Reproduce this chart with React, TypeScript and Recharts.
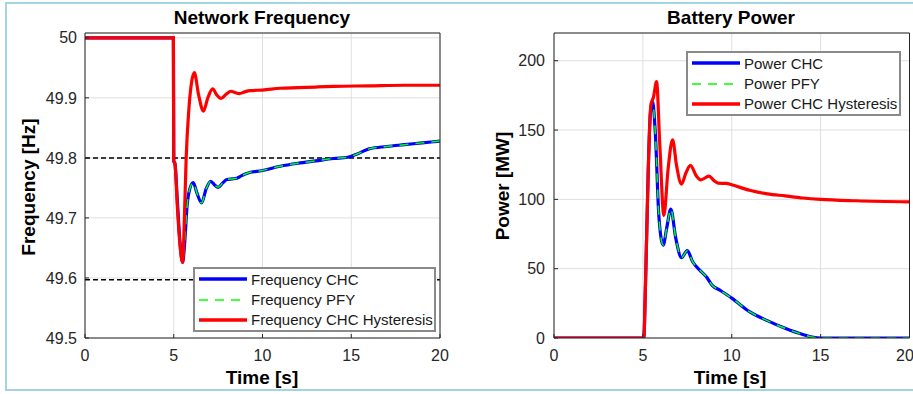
import React from 'react';
import { LineChart, Line, XAxis, YAxis, CartesianGrid, ReferenceLine, Legend } from 'recharts';

const timeTicks = [0, 5, 10, 15, 20];
const freqTicks = [49.5, 49.6, 49.7, 49.8, 49.9, 50];
const powerTicks = [0, 50, 100, 150, 200];
const freqLimits = [49.8, 49.597];

// Network frequency [Hz]
const freqChcT = [0, 4.98, 5.0, 5.07, 5.2, 5.35, 5.5, 5.62, 5.75, 5.9, 6.1, 6.3, 6.57, 6.82, 7.08, 7.3, 7.5, 7.75, 8.0, 8.3, 8.55, 8.8, 9.1, 10, 11, 12, 13, 14, 14.8, 15.3, 16, 17, 18, 19, 20];
const freqChcV = [50, 50, 49.795, 49.79, 49.73, 49.66, 49.626, 49.66, 49.72, 49.748, 49.759, 49.742, 49.725, 49.748, 49.761, 49.755, 49.751, 49.758, 49.764, 49.765, 49.766, 49.77, 49.774, 49.779, 49.786, 49.791, 49.795, 49.799, 49.801, 49.806, 49.815, 49.819, 49.822, 49.825, 49.828];
const freqPfyT = [0, 4.98, 5.0, 5.07, 5.2, 5.35, 5.5, 5.62, 5.75, 5.9, 6.1, 6.3, 6.57, 6.82, 7.08, 7.3, 7.5, 7.75, 8.0, 8.3, 8.55, 8.8, 9.1, 10, 11, 12, 13, 14, 14.8, 15.3, 16, 17, 18, 19, 20];
const freqPfyV = [50, 50, 49.795, 49.79, 49.73, 49.66, 49.626, 49.66, 49.72, 49.748, 49.759, 49.742, 49.725, 49.748, 49.761, 49.755, 49.751, 49.758, 49.764, 49.765, 49.766, 49.77, 49.774, 49.779, 49.786, 49.791, 49.795, 49.799, 49.801, 49.806, 49.815, 49.819, 49.822, 49.825, 49.828];
const freqHysT = [0, 4.98, 5.0, 5.07, 5.2, 5.35, 5.5, 5.6, 5.7, 5.85, 6.0, 6.16, 6.4, 6.67, 6.92, 7.19, 7.42, 7.66, 7.95, 8.22, 8.45, 8.69, 9.0, 9.3, 10, 11, 12, 13, 14, 16, 18, 20];
const freqHysV = [50, 50, 49.795, 49.79, 49.72, 49.655, 49.626, 49.7, 49.8, 49.88, 49.925, 49.942, 49.905, 49.878, 49.9, 49.915, 49.905, 49.899, 49.906, 49.911, 49.909, 49.907, 49.91, 49.912, 49.913, 49.916, 49.917, 49.918, 49.919, 49.92, 49.921, 49.921];

// Battery power [MW]
const powChcT = [0, 5.05, 5.15, 5.3, 5.42, 5.54, 5.7, 5.9, 6.14, 6.35, 6.57, 6.85, 7.17, 7.5, 7.8, 8.2, 8.58, 8.9, 9.33, 10, 11, 12, 13, 14, 14.6, 15, 20];
const powChcV = [0, 0, 40, 120, 162, 171, 148, 88, 67, 80, 93, 72, 58, 63, 55, 49, 44, 38, 34.5, 28.8, 19, 12.5, 7, 2.5, 0.5, 0, 0];
const powPfyT = [0, 5.05, 5.15, 5.3, 5.42, 5.54, 5.7, 5.9, 6.14, 6.35, 6.57, 6.85, 7.17, 7.5, 7.8, 8.2, 8.58, 8.9, 9.33, 10, 11, 12, 13, 14, 14.6, 15, 20];
const powPfyV = [0, 0, 40, 120, 162, 171, 148, 88, 67, 80, 93, 72, 58, 63, 55, 49, 44, 38, 34.5, 28.8, 19, 12.5, 7, 2.5, 0.5, 0, 0];
const powHysT = [0, 5.05, 5.15, 5.3, 5.45, 5.6, 5.77, 5.95, 6.18, 6.42, 6.67, 6.9, 7.17, 7.42, 7.68, 8.0, 8.26, 8.5, 8.72, 9.0, 9.23, 9.7, 10, 11, 12, 13, 14, 15, 17, 20];
const powHysV = [0, 0, 40, 120, 168, 174, 185, 140, 88.5, 122, 143, 124, 111, 119, 124.5, 117, 114, 115.5, 116.8, 113.5, 111.7, 111.5, 110.5, 106.6, 104, 102.5, 101, 100, 99, 98.2];

const zip = (t: number[], v: number[]) => t.map((x, i) => ({ t: x, v: v[i] }));

const FONT = '"Liberation Sans", Arial, sans-serif';
const AXIS = '#262626';
const GRID = '#dedede';

interface Series {
  name: string;
  data: { t: number; v: number }[];
  color: string;
  width: number;
  dash?: string;
}

const freqSeries: Series[] = [
  { name: 'Frequency CHC', data: zip(freqChcT, freqChcV), color: '#0000ff', width: 3.2 },
  { name: 'Frequency PFY', data: zip(freqPfyT, freqPfyV), color: '#00ff00', width: 1.5, dash: '9 7' },
  { name: 'Frequency CHC Hysteresis', data: zip(freqHysT, freqHysV), color: '#ff0000', width: 3.2 },
];

const powerSeries: Series[] = [
  { name: 'Power CHC', data: zip(powChcT, powChcV), color: '#0000ff', width: 3.2 },
  { name: 'Power PFY', data: zip(powPfyT, powPfyV), color: '#00ff00', width: 1.5, dash: '9 7' },
  { name: 'Power CHC Hysteresis', data: zip(powHysT, powHysV), color: '#ff0000', width: 3.2 },
];

const LegendBox = ({ items, width }: { items: Series[]; width: number }) => (
  <div
    style={{
      width,
      boxSizing: 'border-box',
      background: '#fff',
      border: '2px solid #8a8a8a',
      fontFamily: FONT,
      fontSize: 15,
      color: '#1a1a1a',
    }}
  >
    {items.map((s) => (
      <div key={s.name} style={{ display: 'flex', alignItems: 'center', height: 20.4, whiteSpace: 'nowrap' }}>
        <svg width={48} height={6} style={{ marginLeft: 4, flexShrink: 0 }}>
          <line x1={0} x2={48} y1={3} y2={3} stroke={s.color} strokeWidth={s.dash ? 1.5 : 3.3} strokeDasharray={s.dash} />
        </svg>
        <span style={{ marginLeft: 4 }}>{s.name}</span>
      </div>
    ))}
  </div>
);

const tickStyle = { fill: AXIS, fontSize: 16, fontFamily: FONT };

interface PanelProps {
  width: number;
  margin: { top: number; right: number; bottom: number; left: number };
  yDomain: [number, number];
  yTicks: number[];
  series: Series[];
  legendPos: { left: number; top: number; width: number };
  refLines?: number[];
  yTickMargin: number;
}

const Panel = ({ width, margin, yDomain, yTicks, series, legendPos, refLines, yTickMargin }: PanelProps) => (
  <LineChart width={width} height={394} margin={margin}>
    <CartesianGrid stroke={GRID} strokeWidth={1} />
    <XAxis
      xAxisId={0}
      type="number"
      dataKey="t"
      domain={[0, 20]}
      ticks={timeTicks}
      allowDataOverflow
      height={30}
      stroke={AXIS}
      tickSize={-4}
      tickMargin={16}
      tick={tickStyle}
    />
    <XAxis
      xAxisId="top"
      orientation="top"
      type="number"
      dataKey="t"
      domain={[0, 20]}
      ticks={timeTicks}
      allowDataOverflow
      height={1}
      stroke={AXIS}
      tickSize={-4}
      tick={false}
    />
    <YAxis
      yAxisId={0}
      type="number"
      domain={yDomain}
      ticks={yTicks}
      allowDataOverflow
      width={60}
      stroke={AXIS}
      tickSize={-4}
      tickMargin={yTickMargin}
      tick={tickStyle}
      tickFormatter={(v: number) => String(v)}
    />
    <YAxis
      yAxisId="right"
      orientation="right"
      type="number"
      domain={yDomain}
      ticks={yTicks}
      allowDataOverflow
      width={1}
      stroke={AXIS}
      tickSize={-4}
      tick={false}
    />
    {(refLines || []).map((y) => (
      <ReferenceLine key={y} y={y} stroke="#000" strokeWidth={1.5} strokeDasharray="5 3" />
    ))}
    {series.map((s) => (
      <Line
        key={s.name}
        name={s.name}
        data={s.data}
        dataKey="v"
        type="monotone"
        stroke={s.color}
        strokeWidth={s.width}
        strokeDasharray={s.dash}
        dot={false}
        activeDot={false}
        isAnimationActive={false}
      />
    ))}
    <Legend
      layout="vertical"
      align="center"
      verticalAlign="middle"
      wrapperStyle={{ left: legendPos.left, top: legendPos.top, width: legendPos.width, margin: 0 }}
      content={() => <LegendBox items={series} width={legendPos.width} />}
    />
  </LineChart>
);

const textBase: React.CSSProperties = {
  position: 'absolute',
  fontFamily: FONT,
  fontWeight: 700,
  fontSize: 19,
  lineHeight: '20px',
  color: '#000',
  textAlign: 'center',
  whiteSpace: 'nowrap',
};

const Title = ({ cx, cy, text, rotate }: { cx: number; cy: number; text: string; rotate?: boolean }) => (
  <div
    style={{
      ...textBase,
      left: cx - 110,
      top: cy - 10,
      width: 220,
      height: 20,
      transform: rotate ? 'rotate(-90deg)' : undefined,
    }}
  >
    {text}
  </div>
);

export default function App() {
  return (
    <div style={{ position: 'absolute', left: 0, top: 0, width: 913, height: 394, overflow: 'hidden', background: '#fff' }}>
      <div
        style={{
          position: 'absolute',
          left: 5,
          top: 2,
          width: 930,
          height: 389,
          boxSizing: 'border-box',
          border: '2px solid #a3d4e2',
        }}
      />
      <div style={{ position: 'absolute', left: 0, top: 0 }}>
        <Panel
          width={460}
          margin={{ top: 32, right: 19, bottom: 26, left: 25 }}
          yDomain={[49.5, 50.008]}
          yTicks={freqTicks}
          series={freqSeries}
          legendPos={{ left: 193, top: 267, width: 243 }}
          refLines={freqLimits}
          yTickMargin={12}
        />
      </div>
      <div style={{ position: 'absolute', left: 460, top: 0 }}>
        <Panel
          width={453}
          margin={{ top: 32, right: 2.5, bottom: 26, left: 34 }}
          yDomain={[0, 220]}
          yTicks={powerTicks}
          series={powerSeries}
          legendPos={{ left: 226, top: 51, width: 215 }}
          yTickMargin={13}
        />
      </div>
      <Title cx={262} cy={18} text="Network Frequency" />
      <Title cx={731} cy={18} text="Battery Power" />
      <Title cx={262} cy={377.5} text="Time [s]" />
      <Title cx={730} cy={377.5} text="Time [s]" />
      <Title cx={29} cy={186.5} text="Frequency [Hz]" rotate />
      <Title cx={503} cy={185.5} text="Power [MW]" rotate />
    </div>
  );
}
